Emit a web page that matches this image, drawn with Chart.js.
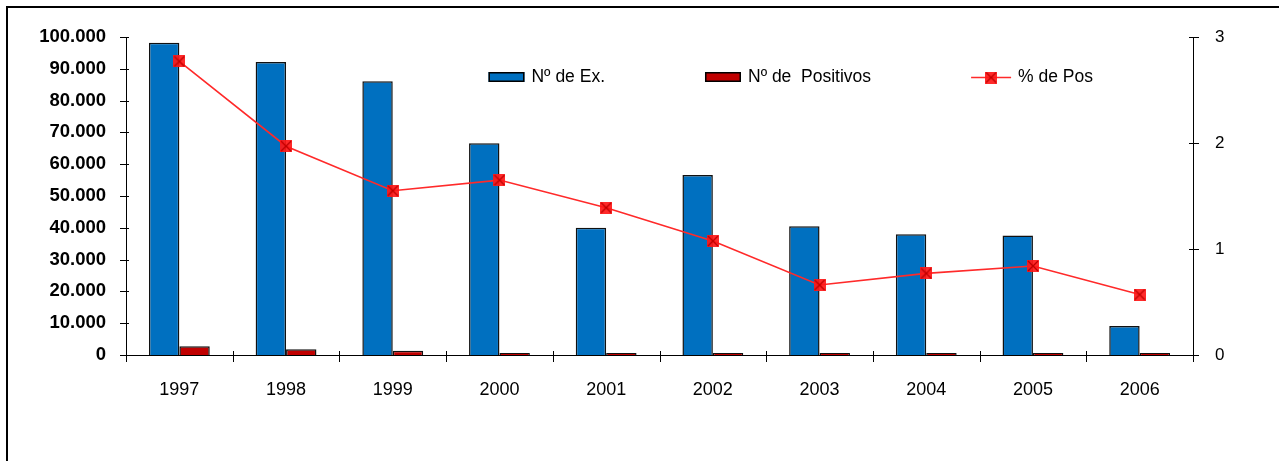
<!DOCTYPE html>
<html>
<head>
<meta charset="utf-8">
<script src="https://cdn.jsdelivr.net/npm/chart.js@4.4.1/dist/chart.umd.min.js"></script>
<style>
  html, body { margin: 0; padding: 0; background: #fff; overflow: hidden; }
  #wrap { position: relative; width: 1279px; height: 461px; }
  #c { position: absolute; left: 0; top: 0; }
  #frame { position: absolute; left: 6px; top: 6px; width: 1290px; height: 470px;
           border: 2px solid #000; box-sizing: border-box; pointer-events: none; }
</style>
</head>
<body>
<div id="wrap">
  <canvas id="c" width="1279" height="461"></canvas>
  <div id="frame"></div>
</div>
<script>
// Años
const years = ['1997', '1998', '1999', '2000', '2001', '2002', '2003', '2004', '2005', '2006'];
// Nº de exámenes
const examenes = [98200, 92100, 86100, 66600, 40000, 56600, 40500, 38000, 37600, 9100];
// Nº de positivos
const positivos = [2720, 1810, 1340, 480, 450, 500, 400, 400, 420, 380];
// % de positivos
const porcentaje = [2.77, 1.97, 1.55, 1.65, 1.39, 1.075, 0.66, 0.77, 0.84, 0.57];

const seriesNames = ['Nº de Ex.', 'Nº de  Positivos', '% de Pos'];
const leftMax = 100000, leftStep = 10000;
const rightMax = 3, rightStep = 1;

const FONT = "'Liberation Sans', Arial, Helvetica, sans-serif";

// square marker with a cross through it
function crossSquare(size) {
  const c = document.createElement('canvas');
  c.width = size; c.height = size;
  const g = c.getContext('2d');
  g.fillStyle = 'rgba(255,24,24,0.92)';
  g.fillRect(0, 0, size, size);
  g.strokeStyle = '#C00000';
  g.lineWidth = 1.4;
  g.beginPath();
  g.moveTo(1, 1); g.lineTo(size - 1, size - 1);
  g.moveTo(size - 1, 1); g.lineTo(1, size - 1);
  g.stroke();
  return c;
}
const marker = crossSquare(12);

function thousands(v) {
  return String(v).replace(/\B(?=(\d{3})+(?!\d))/g, '.');
}

// tick marks that cross the axis lines
const crossTicks = {
  id: 'crossTicks',
  afterDraw(chart) {
    const { ctx, chartArea: a, scales } = chart;
    ctx.save();
    ctx.strokeStyle = '#000';
    ctx.lineWidth = 1;
    ctx.beginPath();
    scales.y.ticks.forEach((t, i) => {
      const y = Math.round(scales.y.getPixelForTick(i)) + 0.5;
      ctx.moveTo(a.left - 6, y); ctx.lineTo(a.left + 3, y);
    });
    scales.y1.ticks.forEach((t, i) => {
      const y = Math.round(scales.y1.getPixelForTick(i)) + 0.5;
      ctx.moveTo(a.right - 4, y); ctx.lineTo(a.right + 6, y);
    });
    for (let i = 0; i <= years.length; i++) {
      const x = Math.round(scales.x.getPixelForValue(i - 0.5)) + 0.5;
      ctx.moveTo(x, a.bottom - 4); ctx.lineTo(x, a.bottom + 7);
    }
    ctx.stroke();
    ctx.restore();
  }
};

// legend drawn inside the plot area, right-aligned
const innerLegend = {
  id: 'innerLegend',
  afterDraw(chart) {
    const { ctx, chartArea: a } = chart;
    const ds = chart.data.datasets;
    const gapItems = 100, gapText = 7, symW = [36, 36, 40];
    const cy = a.top + 40;
    ctx.save();
    ctx.font = '17.5px ' + FONT;
    ctx.textBaseline = 'middle';
    ctx.fillStyle = '#000';
    const widths = ds.map((d, i) => symW[i] + gapText + ctx.measureText(d.label).width);
    const total = widths.reduce((s, w) => s + w, 0) + gapItems * (ds.length - 1);
    let x = a.right - gapItems - total;
    ds.forEach((d, i) => {
      if (d.type === 'line') {
        ctx.strokeStyle = d.borderColor;
        ctx.lineWidth = d.borderWidth;
        ctx.beginPath();
        ctx.moveTo(x, cy + 0.5); ctx.lineTo(x + symW[i], cy + 0.5);
        ctx.stroke();
        ctx.drawImage(marker, x + symW[i] / 2 - 6, cy - 5.5);
      } else {
        ctx.fillStyle = d.backgroundColor;
        ctx.fillRect(x, cy - 5, symW[i], 10);
        ctx.strokeStyle = '#000';
        ctx.lineWidth = 1.5;
        ctx.strokeRect(x + 0.75, cy - 4.25, symW[i] - 1.5, 8.5);
      }
      ctx.fillStyle = '#000';
      ctx.fillText(d.label, x + symW[i] + gapText, cy);
      x += widths[i] + gapItems;
    });
    ctx.restore();
  }
};

new Chart(document.getElementById('c'), {
  type: 'bar',
  data: {
    labels: years,
    datasets: [
      {
        label: seriesNames[0],
        data: examenes,
        backgroundColor: '#0070C0',
        borderColor: '#111',
        borderWidth: 1.5,
        yAxisID: 'y',
        order: 1,
        barPercentage: 1,
        categoryPercentage: 0.57
      },
      {
        label: seriesNames[1],
        data: positivos,
        backgroundColor: '#C00000',
        borderColor: '#111',
        borderWidth: 1.5,
        yAxisID: 'y',
        order: 1,
        barPercentage: 1,
        categoryPercentage: 0.57,
        minBarLength: 2
      },
      {
        type: 'line',
        label: seriesNames[2],
        data: porcentaje,
        borderColor: '#FF2A2A',
        borderWidth: 1.6,
        pointStyle: marker,
        pointRadius: 6,
        yAxisID: 'y1',
        order: 0,
        tension: 0
      }
    ]
  },
  options: {
    responsive: false,
    animation: false,
    devicePixelRatio: 1,
    layout: { padding: { top: 37, left: 0, right: 0, bottom: 0 } },
    plugins: {
      legend: { display: false },
      tooltip: { enabled: false }
    },
    scales: {
      x: {
        offset: true,
        grid: { display: false, drawTicks: false, offset: true },
        border: { display: true, color: '#000', width: 1 },
        ticks: { color: '#000', font: { family: FONT, size: 18 }, padding: 24, maxRotation: 0, autoSkip: false },
        afterFit(s) { s.height = 106; }
      },
      y: {
        position: 'left',
        min: 0, max: leftMax,
        grid: { display: false, drawTicks: false },
        border: { display: true, color: '#000', width: 1 },
        ticks: {
          stepSize: leftStep,
          color: '#000',
          font: { family: FONT, size: 18.5, weight: 'bold' },
          padding: 20,
          callback: v => thousands(v)
        },
        afterFit(s) { s.width = 126; }
      },
      y1: {
        position: 'right',
        min: 0, max: rightMax,
        grid: { display: false, drawTicks: false },
        border: { display: true, color: '#000', width: 1 },
        ticks: { stepSize: rightStep, color: '#000', font: { family: FONT, size: 17 }, padding: 22 },
        afterFit(s) { s.width = 86; }
      }
    }
  },
  plugins: [crossTicks, innerLegend]
});
</script>
</body>
</html>
